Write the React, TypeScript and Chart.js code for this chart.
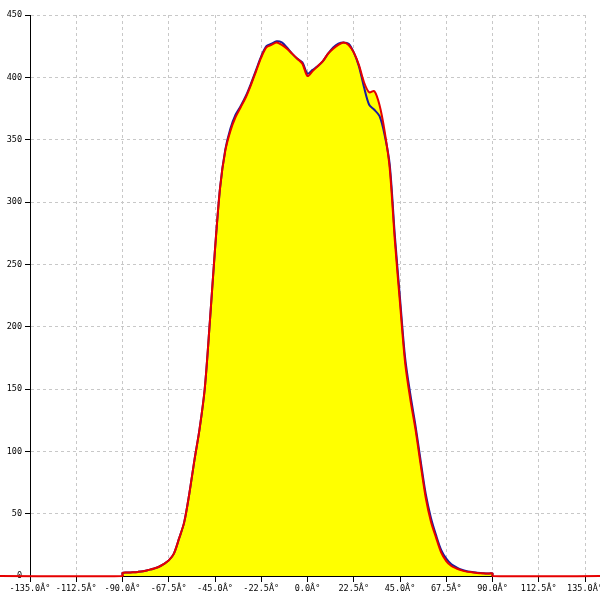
import React, { useEffect, useRef } from "react";
import { Chart, registerables } from "chart.js";

Chart.register(...registerables);

const angles = [
  -90, -87.5, -85, -82.5, -80, -77.5, -75, -72.5, -70, -67.5, -65, -62.5, -60, -57.5, -55, -52.5,
  -50, -47.5, -45, -42.5, -40, -37.5, -35, -32.5, -30, -27.5, -25, -22.5, -20, -17.5, -15, -12.5,
  -10, -7.5, -5, -2.5, 0, 2.5, 5, 7.5, 10, 12.5, 15, 17.5, 20, 22.5, 25, 27.5, 30, 32.5, 35, 37.5,
  40, 42.5, 45, 47.5, 50, 52.5, 55, 57.5, 60, 62.5, 65, 67.5, 70, 72.5, 75, 77.5, 80, 82.5, 85, 87.5, 90,
];

const redValues = [
  2.5, 2.8, 3.0, 3.3, 3.8, 4.8, 5.8, 7.2, 9.5, 12.5, 18, 30, 43, 66, 93, 118,
  150, 204, 262, 312, 341, 357, 368, 376, 384, 394, 405, 416, 424, 426, 428, 426,
  423, 419, 415, 411, 401, 405, 409, 413, 419, 423, 426, 428, 426, 420, 410, 396, 388, 389, 378, 357,
  327, 269, 219, 171, 142, 118, 90, 63, 44, 31, 19, 12, 8, 6, 4.5, 3.5, 3, 2.5, 2.2, 2, 2,
];

const blueValues = [
  2.5, 2.8, 3.0, 3.3, 3.8, 4.8, 5.8, 7.2, 9.5, 12.5, 18, 30, 43, 66, 93, 118,
  150, 204, 262, 312, 342, 359, 370, 377, 385, 395, 406, 417, 425, 427, 429, 428,
  424, 419, 415, 412, 403, 406, 409, 413, 419, 424, 427, 428, 427, 420, 409, 392, 378, 374, 369, 354,
  330, 273, 223, 175, 146, 121, 93, 66, 47, 33, 21, 14, 9.5, 7, 5, 3.8, 3.2, 2.6, 2.3, 2, 2,
];

const baselineLeft = [-150, -90];
const baselineRight = [90, 150];

const xTickMin = -135;
const xTickMax = 135;
const xTickStep = 22.5;
const yTickMax = 450;
const yTickStep = 50;

export default function App() {
  const ref = useRef<HTMLCanvasElement | null>(null);

  useEffect(() => {
    if (!ref.current) return;
    const redPts = [
      ...baselineLeft.map((x) => ({ x, y: 0 })),
      ...angles.map((a, i) => ({ x: a, y: redValues[i] })),
      ...baselineRight.map((x) => ({ x, y: 0 })),
    ];
    const bluePts = [
      { x: angles[0], y: 0 },
      ...angles.map((a, i) => ({ x: a, y: blueValues[i] })),
      { x: angles[angles.length - 1], y: 0 },
    ];
    const font = { family: "'DejaVu Sans Mono', monospace", size: 8.5 };
    const chart = new Chart(ref.current, {
      type: "line",
      data: {
        datasets: [
          {
            data: redPts,
            borderColor: "#e60000",
            borderWidth: 2,
            backgroundColor: "#ffff00",
            fill: "origin",
            pointRadius: 0,
            tension: 0.3,
            clip: false as any,
          },
          {
            data: bluePts,
            borderColor: "#1a1aa0",
            borderWidth: 2,
            fill: false,
            pointRadius: 0,
            tension: 0.3,
          },
        ],
      },
      options: {
        animation: false,
        responsive: false,
        layout: { padding: { top: 15, right: 15, left: 0, bottom: 0 } },
        plugins: {
          legend: { display: false },
          tooltip: { enabled: false },
          filler: { drawTime: "beforeDatasetsDraw" } as any,
        },
        scales: {
          x: {
            type: "linear",
            min: xTickMin,
            max: xTickMax,
            ticks: {
              stepSize: xTickStep,
              color: "#000",
              font,
              padding: 2,
              maxRotation: 0,
              autoSkip: false,
              callback: (v: any) => Number(v).toFixed(1) + "Â°",
            },
            grid: {
              color: "#c8c8c8",
              tickColor: "#000",
              tickLength: 6,
              tickBorderDash: [],
              lineWidth: 1,
            },
            border: { color: "#000", width: 1, dash: [3, 3] },
            afterFit: (s: any) => {
              s.height = 24;
              s.paddingLeft = 0;
              s.paddingRight = 0;
            },
          },
          y: {
            type: "linear",
            min: 0,
            max: yTickMax,
            ticks: {
              stepSize: yTickStep,
              color: "#000",
              font,
              padding: 3,
            },
            grid: {
              color: "#c8c8c8",
              tickColor: "#000",
              tickLength: 5,
              tickBorderDash: [],
              lineWidth: 1,
            },
            border: { color: "#000", width: 1, dash: [3, 3] },
            afterFit: (s: any) => {
              s.width = 30;
              s.paddingTop = 0;
              s.paddingBottom = 0;
            },
          },
        },
      },
    });
    return () => chart.destroy();
  }, []);

  return (
    <div style={{ position: "fixed", left: 0, top: 0, width: 600, height: 600, background: "#fff" }}>
      <canvas ref={ref} width={600} height={600} style={{ display: "block" }} />
    </div>
  );
}
